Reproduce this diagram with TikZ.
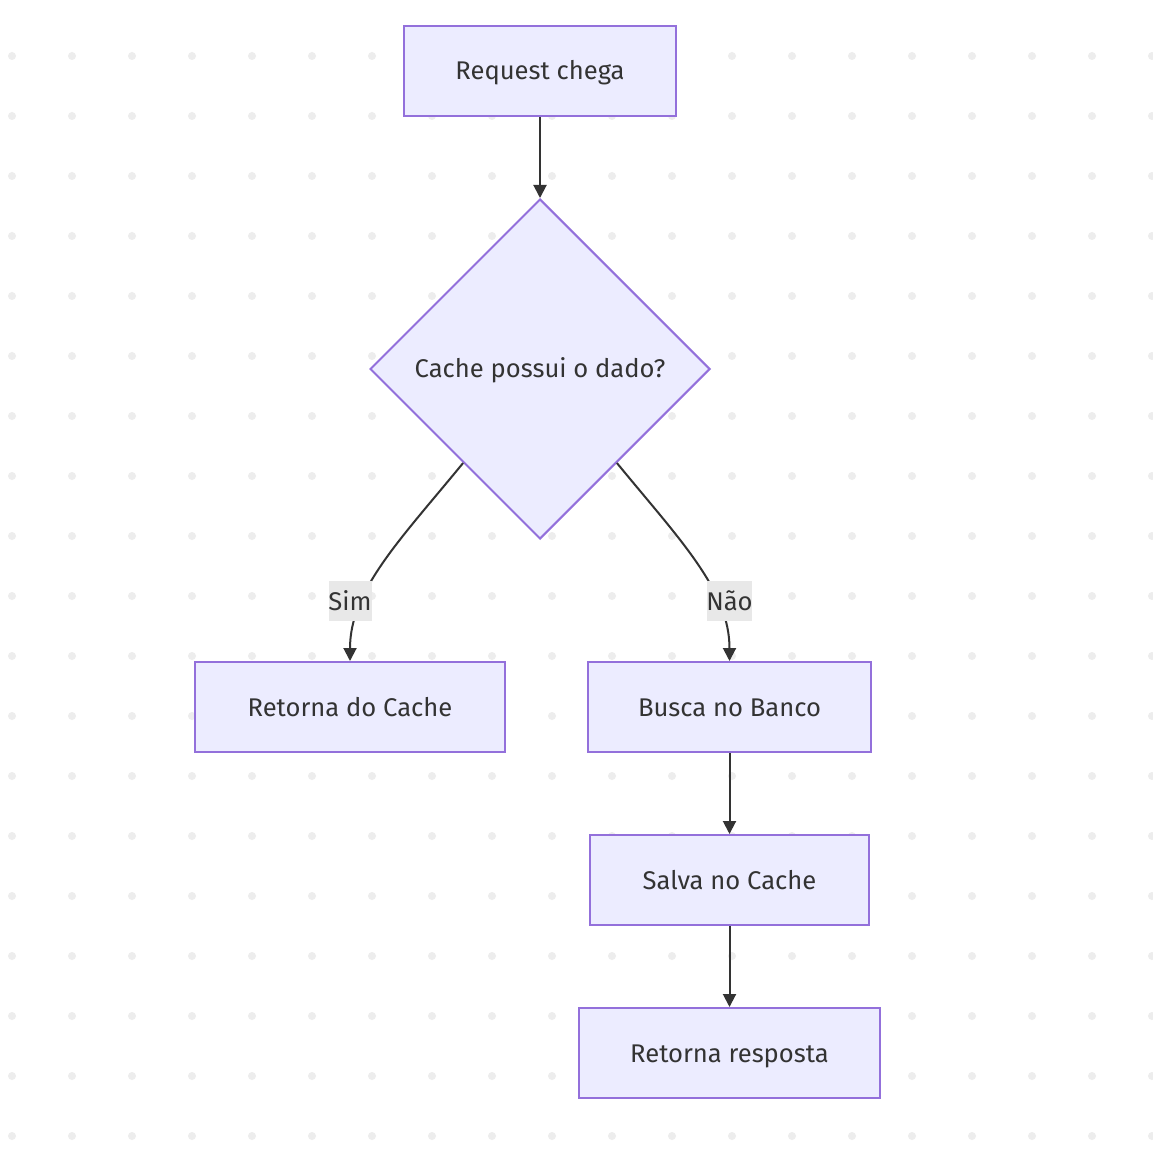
\documentclass[tikz,border=0pt]{standalone}
\usepackage{fontspec}
\setmainfont{Fira Sans}
\usetikzlibrary{shapes.geometric,arrows.meta,calc}
\definecolor{nodefill}{HTML}{ECECFF}
\definecolor{nodeline}{HTML}{9370DB}
\definecolor{ink}{HTML}{333333}
\definecolor{dotc}{HTML}{EDEDED}
\definecolor{lblbg}{HTML}{E8E8E8}
\begin{document}
\begin{tikzpicture}[x=0.5pt,y=-0.5pt,
  box/.style={draw=nodeline, fill=nodefill, line width=1pt, inner sep=0pt, text=ink,
    font=\fontsize{12.8}{15}\selectfont, text height=1.12em, text depth=0.22em, minimum height=45pt},
  decision/.style={box, diamond, aspect=1, minimum width=170pt, minimum height=170pt},
  edge/.style={draw=ink, line width=1pt, -{Triangle[length=6.5pt,width=6.5pt]}},
  lbl/.style={fill=lblbg, text=ink, inner xsep=1pt, inner ysep=0pt, text height=1.12em,
    text depth=0.22em, font=\fontsize{12.8}{15}\selectfont},
  lbltxt/.style={text=ink, inner sep=0pt, text height=1.12em, text depth=0.22em,
    font=\fontsize{12.8}{15}\selectfont}
]
\fill[white] (0,0) rectangle (1152,1154);
\useasboundingbox (0,0) rectangle (1152,1154);
\foreach \i in {0,...,19}{
  \foreach \j in {0,...,18}{
    \fill[dotc] (12+60*\i,56+60*\j) circle (2pt);
  }
}
\node[box, minimum width=136pt] (req) at (540,71) {Request chega};
\node[decision] (d) at (540,369) {Cache possui o dado?};
\node[box, minimum width=155pt] (rc) at (350,707) {Retorna do Cache};
\node[box, minimum width=141.5pt] (bb) at (729.5,707) {Busca no Banco};
\node[box, minimum width=139.5pt] (sc) at (729.5,880) {Salva no Cache};
\node[box, minimum width=150.5pt] (rr) at (729.5,1053) {Retorna resposta};

\draw[edge] (req) -- (d);
\draw[edge] ($(d.west)!0.55!(d.south)$) .. controls (400,540) and (350,590) .. (rc.north);
\draw[edge] ($(d.east)!0.55!(d.south)$) .. controls (680,540) and (729.5,590) .. (bb.north);
\draw[edge] (bb) -- (sc);
\draw[edge] (sc) -- (rr);

\fill[lblbg] (329,581) rectangle (371.5,621);
\fill[lblbg] (707,581) rectangle (752,621);
\node[lbltxt] (lsim) at (350,601) {Sim};
\node[lbltxt] (lnao) at (729.5,601) {Não};
\end{tikzpicture}
\end{document}
